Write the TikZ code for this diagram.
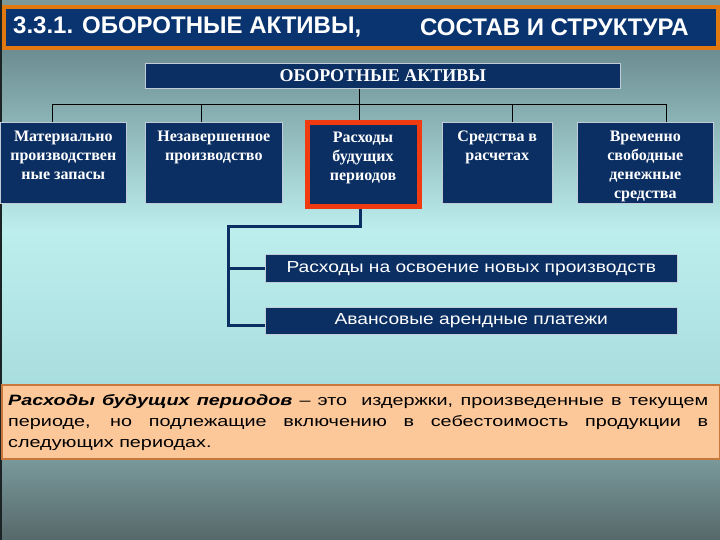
\documentclass[tikz,border=0pt]{standalone}
\usepackage{fontspec}
\setmainfont{Liberation Serif}
\setsansfont{Liberation Sans}
\newfontfamily\titlef{Liberation Sans}
\newfontfamily\boxf{Liberation Serif}
\newfontfamily\subf[FakeStretch=1.2]{Liberation Sans}
\newfontfamily\notef[FakeStretch=1.32]{Liberation Sans}
\definecolor{navy}{HTML}{0B2F63}
\definecolor{titleblue}{HTML}{0A3470}
\definecolor{tborder}{HTML}{E07A10}
\definecolor{redb}{HTML}{F03A10}
\definecolor{notefill}{HTML}{FCC89A}
\definecolor{noteline}{HTML}{C8783A}
\definecolor{bgA}{HTML}{7E9898}
\definecolor{bgB}{HTML}{6B8C90}
\definecolor{bgC}{HTML}{BDEEEE}
\definecolor{bgD}{HTML}{A9DEDE}
\definecolor{bgE}{HTML}{7A9A9C}
\definecolor{bgF}{HTML}{56686A}
\tikzset{
  box/.style={fill=navy, draw=white!75!navy, line width=0.6pt, inner sep=0pt, anchor=north west},
  boxtext/.style={anchor=north, text=white, align=center, inner sep=0pt, font=\boxf\bfseries\fontsize{16}{19}\selectfont},
  subbox/.style={fill=navy, draw=white!75!navy, line width=0.6pt, inner sep=0pt, anchor=north west},
  subtext/.style={text=white, inner sep=0pt, font=\subf\fontsize{16}{18}\selectfont},
  titletext/.style={anchor=west, text=white, inner sep=0pt, font=\titlef\bfseries\fontsize{24}{26}\selectfont},
  thinline/.style={draw=black, line width=0.8pt},
  thickline/.style={draw=navy, line width=3pt}
}
\begin{document}
\begin{tikzpicture}[x=1pt,y=-1pt]
\useasboundingbox (0,0) rectangle (720,540);
% background
\fill[bgA] (0,0) rectangle (720,50);
\fill[top color=bgB, bottom color=bgC] (0,48) rectangle (720,230);
\fill[top color=bgC, bottom color=bgD] (0,229.5) rectangle (720,384);
\fill[top color=bgE, bottom color=bgF] (0,457) rectangle (720,540);
\fill[black!75!bgB] (0,0) rectangle (2,540);
% title bar
\node[fill=titleblue, draw=tborder, line width=4pt, minimum width=714pt, minimum height=41pt, inner sep=0pt, anchor=north west] (title) at (2,5) {};
\node[titletext] (title1) at (13,27) {3.3.1. ОБОРОТНЫЕ АКТИВЫ,};
\node[titletext] (title2) at (420,27) {СОСТАВ И СТРУКТУРА};
% top box
\node[box, minimum width=475pt, minimum height=25pt] (top) at (145,63) {};
\node[text=white, font=\boxf\bfseries\fontsize{18}{20}\selectfont, inner sep=0pt] (toptext) at (top.center) {ОБОРОТНЫЕ АКТИВЫ};
% category boxes
\node[box, minimum width=126pt, minimum height=81pt] (b1) at (0,122) {};
\node[box, minimum width=137pt, minimum height=81pt] (b2) at (145,122) {};
\node[box, draw=redb, line width=5pt, minimum width=112pt, minimum height=84pt] (b3) at (304.5,120.5) {};
\node[box, minimum width=110pt, minimum height=81pt] (b4) at (442,122) {};
\node[box, minimum width=136pt, minimum height=81pt] (b5) at (577,122) {};
\node[boxtext] (t1) at ([yshift=-9pt]b1.north) {Материально\\производствен\\ные запасы};
\node[boxtext] (t2) at ([yshift=-9pt]b2.north) {Незавершенное\\производство};
\node[boxtext] (t3) at ([yshift=-11pt]b3.north) {Расходы\\будущих\\периодов};
\node[boxtext] (t4) at ([yshift=-9pt]b4.north) {Средства в\\расчетах};
\node[boxtext] (t5) at ([yshift=-9pt]b5.north) {Временно\\свободные\\денежные\\средства};
% bus connectors
\coordinate (j1) at (52,104);
\coordinate (j2) at (201,104);
\coordinate (j3) at (359,104);
\coordinate (j4) at (512,104);
\coordinate (j5) at (666,104);
\draw[thinline] (j1) -- (j5);
\draw[thinline] (j1) -- (j1 |- b1.north);
\draw[thinline] (j2) -- (j2 |- b2.north);
\draw[thinline] (j3 |- top.south) -- (j3 |- b3.north);
\draw[thinline] (j4) -- (j4 |- b4.north);
\draw[thinline] (j5) -- (j5 |- b5.north);
% sub boxes
\node[subbox, minimum width=412pt, minimum height=28pt] (l1) at (265,254) {};
\node[subtext] (l1t) at (l1.center) {Расходы на освоение новых производств};
\node[subbox, minimum width=412pt, minimum height=27pt] (l2) at (265,307) {};
\node[subtext] (l2t) at (l2.center) {Авансовые арендные платежи};
\coordinate (c1) at (360,227);
\coordinate (c2) at (228,227);
\coordinate (c3) at (228,325);
\draw[thickline] (c1 |- b3.south) -- (c1) -- (c2) -- (c3) -- (c3 -| l2.west);
\draw[thickline] (c2 |- l1.west) -- (l1.west);
% note
\node[fill=notefill, draw=noteline, line width=1.5pt, minimum width=718pt, minimum height=74pt, inner sep=0pt, anchor=north west] (note) at (1,384) {};
\node[anchor=north west, inner sep=0pt, text width=700pt, align=justify, font=\notef\fontsize{15}{21}\selectfont] (notet) at (8,394)
{\textbf{\textit{Расходы будущих периодов}} – это\ \ издержки, произведенные в текущем периоде, но подлежащие включению в себестоимость продукции в следующих периодах.};
\end{tikzpicture}
\end{document}
